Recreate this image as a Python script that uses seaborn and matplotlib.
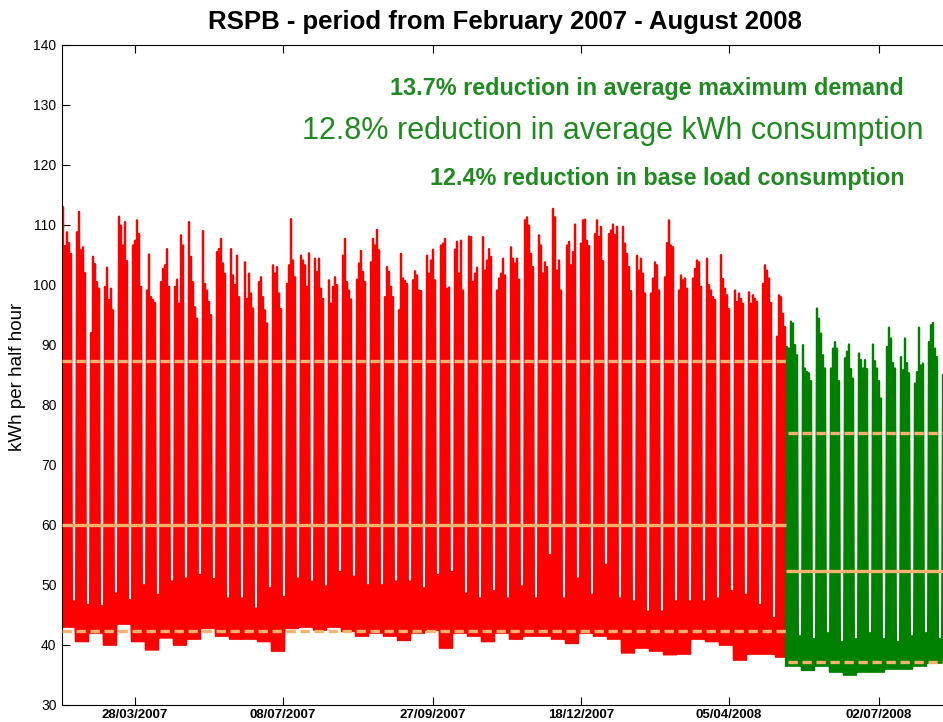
import matplotlib
matplotlib.use("Agg")
import matplotlib.pyplot as plt
import pandas as pd
import seaborn as sns

# Daily peak demand (kWh per half hour), one row per week, Mon-Fri
red_weekday_peaks = [
    [113, 106.5, 108.8, 107, 105.2], [108.8, 112.2, 105.8, 106.3, 102],
    [92, 104.7, 103.5, 100.5, 99.4], [99.7, 102.9, 97.5, 99.4, 95.8],
    [111.4, 109.9, 106.6, 110.5, 104], [106.6, 107.4, 110.8, 108.5, 99.7],
    [99.1, 105.1, 98, 97.5, 97], [100.5, 102.7, 103.3, 106, 99.7],
    [99.7, 100.9, 96.9, 108.3, 106.6], [110.5, 104.7, 100.5, 96.3, 94.4],
    [109, 100.2, 99.1, 97.2, 95], [105.5, 106, 107.7, 103.6, 101.9],
    [106, 101.6, 100, 104.9, 98], [103.8, 97.7, 101.9, 98.6, 96.1],
    [100.5, 101.3, 98, 95.8, 93.6], [103.3, 101.9, 103, 98.6, 96],
    [100.2, 103.3, 111, 104.1, 101.3], [104.9, 104.1, 103.3, 99.7, 105.3],
    [104.4, 102.2, 104.4, 99.4, 97.7], [100.8, 96.9, 99.7, 101.3, 100],
    [104.9, 107.7, 100.5, 99.1, 97.6], [100.9, 103.6, 105.7, 102.2, 100.5],
    [103.8, 107.7, 106.6, 109.2, 105.8], [98, 103, 102.2, 99.7, 98],
    [95.8, 105.2, 101.1, 100.7, 100.2], [100.8, 102.3, 101.6, 99.1, 99],
    [104.9, 101.9, 104.1, 105.9, 100.8], [106.6, 106.9, 107.7, 99.4, 99.6],
    [105.9, 107.2, 101.9, 107.4, 99.1], [108.1, 108, 100.5, 101.9, 102.9],
    [108, 102.4, 104.1, 106, 104.7], [99.1, 101.1, 101.9, 104.4, 101.6],
    [106.3, 104.4, 103.6, 104.4, 100.9], [110.8, 111.3, 109.9, 105.2, 103],
    [108.3, 106.6, 101.9, 103.8, 103], [112.7, 111.3, 102.4, 104.1, 99.1],
    [106.6, 107.2, 103.3, 105.5, 110.1], [106.9, 110.8, 110.9, 107.4, 106.5],
    [108.5, 110.8, 108, 109.7, 104], [108.5, 109.1, 110.1, 108.3, 109.7],
    [109.7, 106.9, 105.2, 103, 99], [104.9, 102.4, 104.4, 101.9, 98.6],
    [98.6, 101.1, 103.8, 103.3, 99.1], [101.3, 107, 110.8, 106.6, 106.3],
    [99.1, 101.6, 100.8, 101.1, 99.4], [101.1, 102.7, 104.1, 103.8, 99.7],
    [104.4, 100, 99.1, 98, 97.5], [105, 101, 99.4, 98.3, 96],
    [99.1, 97.2, 98.6, 97.7, 96.9], [98.8, 96.9, 98.3, 97.7, 97.2],
    [100.2, 103.3, 102.4, 101.1, 97], [91.4, 98.3, 98, 95.2, 93],
]
red_weekend_peaks = [
    47.3, 46.7, 46.5, 48.6, 47.5, 50, 48.4, 50.6, 51.1, 51.7, 51,
    47.8, 47.8, 46.1, 49.5, 48, 51.1, 50.6, 49.8, 52.2, 51.4, 50,
    50, 50.6, 50.6, 49.5, 51.7, 52.2, 48.6, 47.8, 49, 47.8, 49.8,
    47.8, 55, 47.8, 51.1, 48.4, 53.4, 47.8, 47.3, 45.6, 45.6, 47.3,
    47.3, 47.3, 47.8, 49, 48.4, 46.7, 44.5,
]
red_night_lows = [
    43, 40.6, 42, 40, 43.5, 40.6, 39.2, 41.2, 40, 41, 42.8,
    41.5, 41, 41, 40.6, 39, 42.8, 43, 42.5, 43, 42.3, 41.5,
    42, 41.5, 40.8, 42, 42.5, 39.5, 42, 41.5, 40.6, 42, 41,
    41.5, 41.5, 41, 40.3, 42, 41.5, 41, 38.7, 39.5, 39, 38.4,
    38.5, 41, 40.6, 40, 37.5, 38.5, 38.5, 38,
]

green_weekday_peaks = [
    [89.7, 89.4, 93.9, 93.6, 90, 88.3], [90, 86.1, 85.5, 85.3, 84],
    [96.1, 94.4, 91.9, 88.3, 86.1], [86.1, 89.4, 90.5, 89.4, 84],
    [87.8, 88.9, 90.1, 86, 84.4], [88.6, 87.5, 86.1, 87.5, 86],
    [90.1, 87.3, 86.1, 84, 81.1], [89.7, 92.9, 91.1, 87, 86.1],
    [88, 85.8, 91.1, 87, 85.3], [83.6, 85.5, 92.9, 86.6, 86.9],
    [90.5, 93.3, 93.7, 89.4, 88], [85],
]
green_weekend_peaks = [41.5, 41, 42, 40.5, 41, 42, 41, 40.5, 41.5, 42, 41]
green_night_lows = [36.5, 35.8, 36.5, 35.5, 35, 35.5, 35.5, 36, 36, 36.5, 37, 37]

# average max demand, average consumption, base load (before / after)
red_means = [87.3, 60.0, 42.3]
green_means = [75.3, 52.4, 37.1]
reductions = ["13.7% reduction in average maximum demand",
              "12.8% reduction in average kWh consumption",
              "12.4% reduction in base load consumption"]

tick_days = [36.5, 110.5, 185.5, 259.5, 333.5, 408.5]
tick_labels = ["28/03/2007", "08/07/2007", "27/09/2007", "18/12/2007", "05/04/2008", "02/07/2008"]


def build_series(weekday_peaks, weekend_peaks, night_lows, start, name):
    rows = []
    d = start
    for i, week in enumerate(weekday_peaks):
        low = night_lows[i]
        days = list(week)
        if i < len(weekend_peaks):
            days += [weekend_peaks[i], weekend_peaks[i]]
        for peak in days:
            rows.append((d, low, name))
            rows.append((d + 0.5, peak, name))
            d += 1
    rows.append((d, night_lows[-1], name))
    return rows, d


red_rows, red_end = build_series(red_weekday_peaks, red_weekend_peaks, red_night_lows, 0, "before")
green_rows, green_end = build_series(green_weekday_peaks, green_weekend_peaks, green_night_lows, red_end, "after")
df = pd.DataFrame(red_rows + green_rows, columns=["day", "kwh", "period"])

sns.set_style("ticks")
plt.rcParams["font.family"] = ["Liberation Sans", "DejaVu Sans"]
plt.rcParams["xtick.direction"] = "in"
plt.rcParams["ytick.direction"] = "in"
plt.rcParams["text.color"] = "black"
plt.rcParams["xtick.color"] = "black"
plt.rcParams["ytick.color"] = "black"

W, H = 943, 722
fig = plt.figure(figsize=(W / 100, H / 100), dpi=100)
ax = fig.add_axes([62 / W, 1 - 705 / H, 883 / W, 660 / H])

sns.lineplot(data=df, x="day", y="kwh", hue="period", estimator=None, sort=False,
             palette={"before": "#ff0000", "after": "#008000"}, linewidth=1.6,
             legend=False, ax=ax)

orange = "#f5b26e"
for vals, x0, x1 in [(red_means, 0, red_end), (green_means, red_end + 1, green_end + 2)]:
    ax.hlines(vals[0], x0, x1, colors=orange, linewidth=2.4, linestyles=(0, (2.8, 1.4)), zorder=5)
    ax.hlines(vals[1], x0 - (1 if x0 else 0), x1, colors=orange, linewidth=2.4, zorder=5)
    ax.hlines(vals[2], x0, x1, colors=orange, linewidth=2.4, linestyles=(0, (2.8, 1.4)), zorder=5)

ax.set_xlim(0, 441.5)
ax.set_ylim(30, 140)
ax.set_yticks(range(30, 141, 10))
ax.set_xticks(tick_days)
ax.set_xticklabels(tick_labels, fontweight="bold", fontsize=9.5)
ax.tick_params(axis="x", top=True, length=6, width=0.8, pad=3)
ax.tick_params(axis="y", labelsize=10, length=6, width=0.8, pad=4)
ax.set_xlabel("")
ax.set_ylabel("")
for side in ["left", "bottom", "top"]:
    ax.spines[side].set_linewidth(0.8)
    ax.spines[side].set_color("black")
ax.spines["right"].set_visible(False)

fig.text(505 / W, 1 - 22 / H, "RSPB - period from February 2007 - August 2008",
         fontsize=18.5, fontweight="bold", ha="center", va="center")
fig.text(18 / W, 1 - 377 / H, "kWh per half hour", fontsize=13.5, rotation=90,
         ha="center", va="center")

text_green = "#1f8a1f"
fig.text(390 / W, 1 - 88 / H, reductions[0], fontsize=16.8, fontweight="bold",
         color=text_green, ha="left", va="center")
fig.text(302 / W, 1 - 131 / H, reductions[1], fontsize=22.0, color=text_green,
         ha="left", va="center")
fig.text(430 / W, 1 - 178 / H, reductions[2], fontsize=16.8, fontweight="bold",
         color=text_green, ha="left", va="center")

plt.savefig("out.png", dpi=100)
